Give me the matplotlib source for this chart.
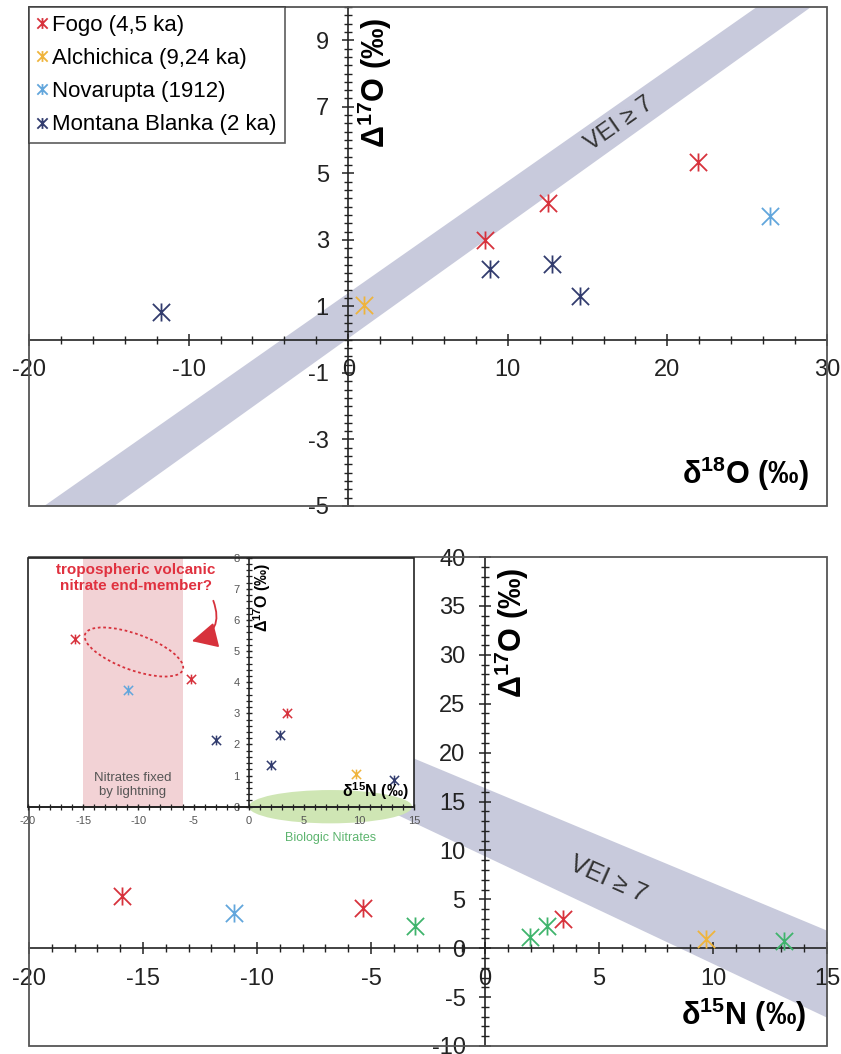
import numpy as np
import matplotlib
matplotlib.use('Agg')
import matplotlib.pyplot as plt
from matplotlib.path import Path
from matplotlib.patches import Ellipse, Rectangle
from matplotlib.ticker import MultipleLocator
import matplotlib.transforms as mtransforms

plt.rcParams['font.family'] = ['Liberation Sans', 'DejaVu Sans']
plt.rcParams['mathtext.fontset'] = 'custom'
plt.rcParams['mathtext.rm'] = 'Liberation Sans'
plt.rcParams['mathtext.bf'] = 'Liberation Sans:bold'
plt.rcParams['mathtext.it'] = 'Liberation Sans:italic'
plt.rcParams['axes.unicode_minus'] = False

# --- top panel: d18O vs D17O ---
fogo_d18 = [8.6, 12.5, 21.9]
fogo_D17 = [3.0, 4.1, 5.35]
alch_d18 = [1.0]
alch_D17 = [1.05]
nova_d18 = [26.4]
nova_D17 = [3.72]
mb_d18 = [-11.7, 8.9, 12.8, 14.5]
mb_D17 = [0.84, 2.13, 2.28, 1.32]

# VEI>=7 band (corners)
vei_top_x = [-19.05, 25.6, 29.0, -14.66]
vei_top_y = [-5, 10, 10, -5]

# --- bottom panel: d15N vs D17O ---
fogo_d15 = [-15.9, -5.35, 3.4]
fogo_D17b = [5.3, 4.1, 2.95]
nova_d15 = [-11.0]
nova_D17b = [3.6]
alch_d15 = [9.7]
alch_D17b = [0.9]
green_d15 = [-3.07, 1.97, 2.7, 13.1]
green_D17b = [2.24, 1.12, 2.24, 0.7]

vei_bot_x = [-6, 15, 15, -6]
vei_bot_y = [22.2, 1.8, -7.1, 16.0]

# --- inset ---
ins_fogo_x = [-15.7, -5.2, 3.46]
ins_fogo_y = [5.4, 4.1, 3.0]
ins_nova_x = [-10.9]
ins_nova_y = [3.75]
ins_alch_x = [9.73]
ins_alch_y = [1.04]
ins_mb_x = [-2.98, 2.06, 2.8, 13.2]
ins_mb_y = [2.14, 1.34, 2.31, 0.86]
lightning_x = (-15, -6)
bio_center = (7.4, 0.0)
bio_size = (14.8, 1.07)
endmember_center = (-10.4, 4.97)

RED = '#d7323c'
ORANGE = '#efb43c'
LBLUE = '#62a6dc'
NAVY = '#323c6e'
GREEN = '#3fb46c'
BAND = '#c8cadc'

star = Path([(-1, -1), (1, 1), (-1, 1), (1, -1), (0, -1.05), (0, 1.05)],
            [Path.MOVETO, Path.LINETO, Path.MOVETO, Path.LINETO, Path.MOVETO, Path.LINETO])


def pts(ax, x, y, c, ms=13, mew=1.3, label=None):
    ax.plot(x, y, linestyle='none', marker=star, ms=ms, mew=mew, color=c,
            fillstyle='none', label=label, zorder=5)


def cross_axes(ax, frame_color='#555', frame_lw=1.3):
    ax.spines['left'].set_position(('data', 0))
    ax.spines['bottom'].set_position(('data', 0))
    ax.spines['right'].set_visible(False)
    ax.spines['top'].set_visible(False)
    for s in ('left', 'bottom'):
        ax.spines[s].set_color('#222')
        ax.spines[s].set_linewidth(1.2)
    ax.add_patch(Rectangle((0, 0), 1, 1, transform=ax.transAxes, fill=False,
                           ec=frame_color, lw=frame_lw, clip_on=False, zorder=6))


def label(t):
    return r'$\mathbf{' + t + r'\ (‰)}$'


fig = plt.figure(figsize=(8.41, 10.54), dpi=100)

# ================= top panel =================
ax1 = fig.add_axes([29 / 841, 1 - 506 / 1054, 798 / 841, 499 / 1054])
ax1.set_xlim(-20, 30)
ax1.set_ylim(-5, 10)
cross_axes(ax1)
ax1.fill(vei_top_x, vei_top_y, color=BAND, lw=0, zorder=1)
pts(ax1, fogo_d18, fogo_D17, RED, label='Fogo (4,5 ka)')
pts(ax1, alch_d18, alch_D17, ORANGE, label='Alchichica (9,24 ka)')
pts(ax1, nova_d18, nova_D17, LBLUE, label='Novarupta (1912)')
pts(ax1, mb_d18, mb_D17, NAVY, label='Montana Blanka (2 ka)')

ax1.xaxis.set_major_locator(MultipleLocator(10))
ax1.xaxis.set_minor_locator(MultipleLocator(2))
ax1.set_yticks([-5, -3, -1, 1, 3, 5, 7, 9])
ax1.yaxis.set_minor_locator(MultipleLocator(0.25))
ax1.tick_params(which='major', direction='inout', length=8, width=1.1, labelsize=17, pad=10, colors='#222')
ax1.tick_params(which='minor', direction='inout', length=6, width=1.0, colors='#222')

ax1.text(0.434, 0.848, label(r'\Delta^{17}O'), transform=ax1.transAxes, rotation=90,
         ha='center', va='center', fontsize=22)
ax1.text(0.898, 0.064, label(r'\delta^{18}O'), transform=ax1.transAxes,
         ha='center', va='center', fontsize=22)
ax1.text(17.0, 6.5, 'VEI ≥ 7', rotation=35, rotation_mode='anchor', ha='center', va='center',
         fontsize=17, color='#333', zorder=3)

leg = ax1.legend(loc='upper left', bbox_to_anchor=(0, 1), borderaxespad=0, fontsize=16,
                 frameon=True, fancybox=False, edgecolor='#333', handlelength=0.5,
                 handletextpad=0.2, labelspacing=0.55, borderpad=0.35, markerscale=0.6)
leg.get_frame().set_linewidth(1.2)
leg.set_zorder(10)

# ================= bottom panel =================
ax2 = fig.add_axes([29 / 841, 1 - 1046 / 1054, 798 / 841, 489 / 1054])
ax2.set_xlim(-20, 15)
ax2.set_ylim(-10, 40)
cross_axes(ax2)
ax2.fill(vei_bot_x, vei_bot_y, color=BAND, lw=0, zorder=1)
pts(ax2, fogo_d15, fogo_D17b, RED)
pts(ax2, nova_d15, nova_D17b, LBLUE)
pts(ax2, alch_d15, alch_D17b, ORANGE)
pts(ax2, green_d15, green_D17b, GREEN)

ax2.xaxis.set_major_locator(MultipleLocator(5))
ax2.xaxis.set_minor_locator(MultipleLocator(1))
ax2.yaxis.set_major_locator(MultipleLocator(5))
ax2.yaxis.set_minor_locator(MultipleLocator(1))
ax2.tick_params(which='major', direction='inout', length=8, width=1.1, labelsize=17, pad=10, colors='#222')
ax2.tick_params(which='minor', direction='inout', length=6, width=1.0, colors='#222')

ax2.text(0.605, 0.845, label(r'\Delta^{17}O'), transform=ax2.transAxes, rotation=90,
         ha='center', va='center', fontsize=22)
ax2.text(0.896, 0.063, label(r'\delta^{15}N'), transform=ax2.transAxes,
         ha='center', va='center', fontsize=22)
ax2.text(5.4, 7.1, 'VEI ≥ 7', rotation=-24, rotation_mode='anchor', ha='center', va='center',
         fontsize=18, color='#333', zorder=3)

# ================= inset =================
axi = fig.add_axes([28 / 841, 1 - 806.7 / 1054, 386.3 / 841, 249 / 1054])
axi.set_xlim(-20, 15)
axi.set_ylim(0, 8)
axi.set_facecolor('white')
cross_axes(axi, frame_color='#222', frame_lw=1.2)
axi.axvspan(*lightning_x, color='#f2d2d5', lw=0, zorder=0)
axi.add_patch(Ellipse(bio_center, bio_size[0], bio_size[1], color='#cfe6b4', lw=0,
                      clip_on=False, zorder=1))
pts(axi, ins_fogo_x, ins_fogo_y, RED, ms=7, mew=1.1)
pts(axi, ins_nova_x, ins_nova_y, LBLUE, ms=7, mew=1.1)
pts(axi, ins_alch_x, ins_alch_y, ORANGE, ms=7, mew=1.1)
pts(axi, ins_mb_x, ins_mb_y, NAVY, ms=7, mew=1.1)

axi.xaxis.set_major_locator(MultipleLocator(5))
axi.xaxis.set_minor_locator(MultipleLocator(1))
axi.yaxis.set_major_locator(MultipleLocator(1))
axi.yaxis.set_minor_locator(MultipleLocator(0.2))
axi.tick_params(which='major', direction='inout', length=5, width=1.0, labelsize=8,
                pad=4, colors='#222', labelcolor='#555')
axi.tick_params(which='minor', direction='inout', length=4, width=0.9, colors='#222')

axi.text(0.606, 0.842, label(r'\Delta^{17}O'), transform=axi.transAxes, rotation=90,
         ha='center', va='center', fontsize=11.5)
axi.text(0.898, 0.063, label(r'\delta^{15}N'), transform=axi.transAxes,
         ha='center', va='center', fontsize=11.5, zorder=7)

axi.text(-10.5, 0.7, 'Nitrates fixed\nby lightning', ha='center', va='center',
         fontsize=9.5, color='#555', linespacing=1.2)
axi.text(7.4, -1.0, 'Biologic Nitrates', ha='center', va='center', fontsize=9,
         color='#5cb46e', clip_on=False)
axi.text(-10.25, 7.35, 'tropospheric volcanic\nnitrate end-member?', ha='center', va='center',
         fontsize=11, color='#e0313f', fontweight='bold', linespacing=1.15)

# dotted end-member ellipse, sized in inches and centred on a data point
off = mtransforms.ScaledTranslation(endmember_center[0], endmember_center[1], axi.transData)
axi.add_patch(Ellipse((0, 0), 1.04, 0.36, angle=-20, fill=False, ec='#d7323c', lw=1.3,
                      ls=(0, (1.5, 1.5)), transform=fig.dpi_scale_trans + off, zorder=4))
axi.annotate('', xy=(-5.4, 5.3), xytext=(-3.3, 6.7),
             arrowprops=dict(arrowstyle='-|>,head_length=0.8,head_width=0.4',
                             connectionstyle='arc3,rad=-0.6', color='#d7323c',
                             lw=1.3, mutation_scale=20))

fig.savefig('out.png', dpi=100)
